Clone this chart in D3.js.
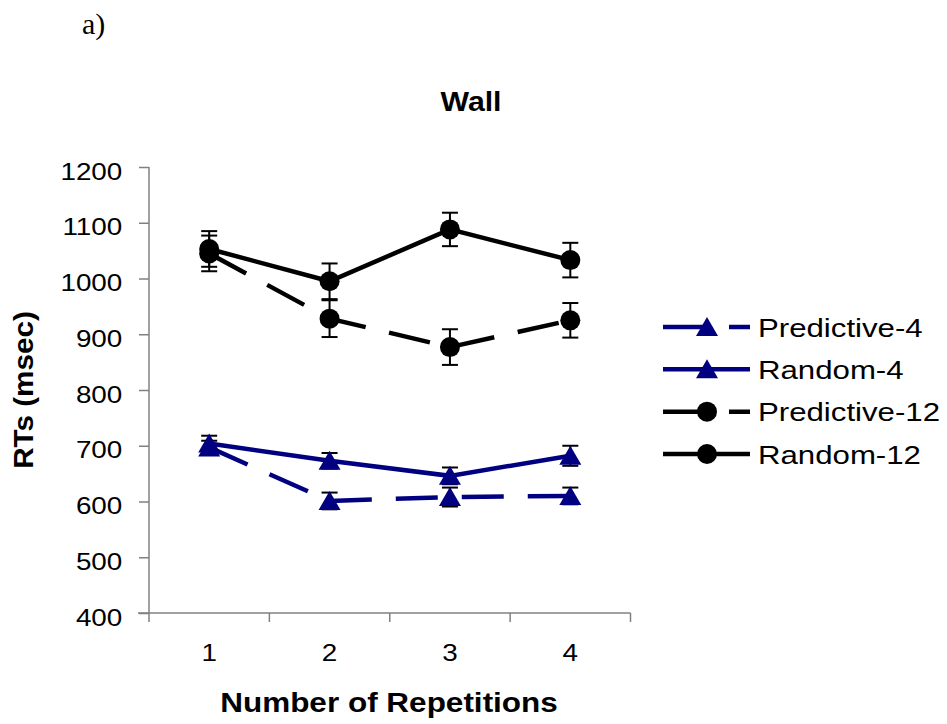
<!DOCTYPE html>
<html>
<head>
<meta charset="utf-8">
<script src="https://cdn.jsdelivr.net/npm/d3@7"></script>
<style>
  body { margin: 0; background: #fff; }
  text { font-family: "Liberation Sans", Arial, sans-serif; fill: #000; }
</style>
</head>
<body>
<div id="canvas"></div>
<script>
const canvas = d3.select("#canvas");

// data
const repetitions = ["1", "2", "3", "4"];
const yTicks = [400, 500, 600, 700, 800, 900, 1000, 1100, 1200];
const seriesNames = ["Predictive-4", "Random-4", "Predictive-12", "Random-12"];
const predictive4 = [697, 601, 608, 610];
const predictive4Err = [12, 15, 17, 15];
const random4 = [704, 673, 646, 682];
const random4Err = [14, 14, 15, 18];
const predictive12 = [1045, 928, 877, 925];
const predictive12Err = [32, 33, 32, 31];
const random12 = [1053, 995, 1088, 1033];
const random12Err = [32, 32, 30, 31];

const series = [
    { name: seriesNames[0], values: predictive4, err: predictive4Err, color: "#000080", dashed: true, marker: "triangle" },
    { name: seriesNames[1], values: random4, err: random4Err, color: "#000080", dashed: false, marker: "triangle" },
    { name: seriesNames[2], values: predictive12, err: predictive12Err, color: "#000000", dashed: true, marker: "circle" },
    { name: seriesNames[3], values: random12, err: random12Err, color: "#000000", dashed: false, marker: "circle" }
];

const width = 947;
const height = 724;
const axisColor = "#808080";

const svg = canvas.append("svg");
svg.attr("width", width);
svg.attr("height", height);

const x = d3.scaleBand()
    .domain(repetitions)
    .range([149, 630.5])
    .padding(0);

const y = d3.scaleLinear()
    .domain([400, 1200])
    .range([613, 167]);

const cx = d => x(d) + x.bandwidth() / 2;

// panel label and title
svg.append("text")
    .attr("x", 82)
    .attr("y", 34)
    .style("font-family", "'Liberation Serif', 'Times New Roman', serif")
    .style("font-size", "30px")
    .text("a)");

svg.append("text")
    .attr("transform", "translate(471,111) scale(1.12,1)")
    .attr("text-anchor", "middle")
    .style("font-size", "27px")
    .style("font-weight", "bold")
    .text("Wall");

// y axis
const yAxis = svg.append("g")
    .attr("transform", `translate(${x.range()[0]},0)`)
    .call(d3.axisLeft(y).tickValues(yTicks).tickFormat(d3.format("d")).tickSize(10).tickSizeOuter(0));
yAxis.select(".domain").attr("stroke", axisColor).attr("stroke-width", 1.5)
    .attr("d", `M0,${y(1200)}V${y(400) + 9}`);
yAxis.selectAll(".tick line").attr("stroke", axisColor).attr("stroke-width", 1.5);
yAxis.selectAll(".tick text")
    .attr("x", -23)
    .attr("dy", null)
    .attr("y", 12)
    .attr("transform", "scale(1.16,1)")
    .style("font-size", "24px")
    .style("font-family", "'Liberation Sans', Arial, sans-serif");

// x axis: labels centred in bands, ticks at band edges
const xAxis = svg.append("g")
    .attr("transform", `translate(0,${y(400)})`)
    .call(d3.axisBottom(x).tickSize(0).tickSizeOuter(0));
xAxis.select(".domain").attr("stroke", axisColor).attr("stroke-width", 1.5)
    .attr("d", `M${x.range()[0] - 11},0H${x.range()[1]}`);
xAxis.selectAll(".tick text")
    .attr("y", 48)
    .attr("dy", null)
    .attr("transform", "scale(1.16,1)")
    .style("font-size", "24px")
    .style("font-family", "'Liberation Sans', Arial, sans-serif");
xAxis.selectAll(".edge")
    .data(repetitions.slice(1).map(d => x(d)).concat([x.range()[1]]))
    .enter().append("line")
    .attr("class", "edge")
    .attr("x1", d => d).attr("x2", d => d)
    .attr("y1", 0).attr("y2", 9)
    .attr("stroke", axisColor)
    .attr("stroke-width", 1.5);

// axis titles
svg.append("text")
    .attr("transform", "translate(389,712) scale(1.125,1)")
    .attr("text-anchor", "middle")
    .style("font-size", "28px")
    .style("font-weight", "bold")
    .text("Number of Repetitions");

svg.append("text")
    .attr("transform", "translate(33,390) rotate(-90) scale(1.06,1)")
    .attr("text-anchor", "middle")
    .style("font-size", "28px")
    .style("font-weight", "bold")
    .text("RTs (msec)");

// marks
const line = d3.line()
    .x((d, i) => cx(repetitions[i]))
    .y(d => y(d));

const trianglePath = "M0,-10L11,9L-11,9Z";

function drawMarker(sel, s) {
    if (s.marker === "circle") {
        sel.append("circle").attr("r", 10).attr("fill", s.color);
    } else {
        sel.append("path").attr("d", trianglePath).attr("fill", s.color);
    }
}

const plot = svg.append("g");

series.forEach(s => {
    plot.append("path")
        .datum(s.values)
        .attr("fill", "none")
        .attr("stroke", s.color)
        .attr("stroke-width", 4.5)
        .attr("stroke-dasharray", s.dashed ? "42,24" : null)
        .attr("d", line);
});

series.forEach(s => {
    const eb = plot.append("g");
    s.values.forEach((v, i) => {
        const px = cx(repetitions[i]);
        const top = y(v + s.err[i]);
        const bot = y(v - s.err[i]);
        eb.append("line").attr("x1", px).attr("x2", px).attr("y1", top).attr("y2", bot)
            .attr("stroke", "#000").attr("stroke-width", 2);
        [top, bot].forEach(yy => {
            eb.append("line").attr("x1", px - 8).attr("x2", px + 8).attr("y1", yy).attr("y2", yy)
                .attr("stroke", "#000").attr("stroke-width", 2);
        });
    });
});

series.forEach(s => {
    s.values.forEach((v, i) => {
        const m = plot.append("g")
            .attr("transform", `translate(${cx(repetitions[i])},${y(v)})`);
        drawMarker(m, s);
    });
});

// legend
const legendRowY = d3.scalePoint()
    .domain(seriesNames)
    .range([327, 454]);

const legend = svg.append("g");
series.forEach(s => {
    const row = legend.append("g")
        .attr("transform", `translate(0,${legendRowY(s.name)})`);
    row.append("line")
        .attr("x1", 663).attr("x2", 750)
        .attr("stroke", s.color)
        .attr("stroke-width", 4.5)
        .attr("stroke-dasharray", s.dashed ? "42,24" : null);
    const m = row.append("g").attr("transform", "translate(707,0)");
    drawMarker(m, s);
    row.append("text")
        .attr("transform", "translate(758,9.5) scale(1.2,1)")
        .style("font-size", "26px")
        .text(s.name);
});
</script>
</body>
</html>
